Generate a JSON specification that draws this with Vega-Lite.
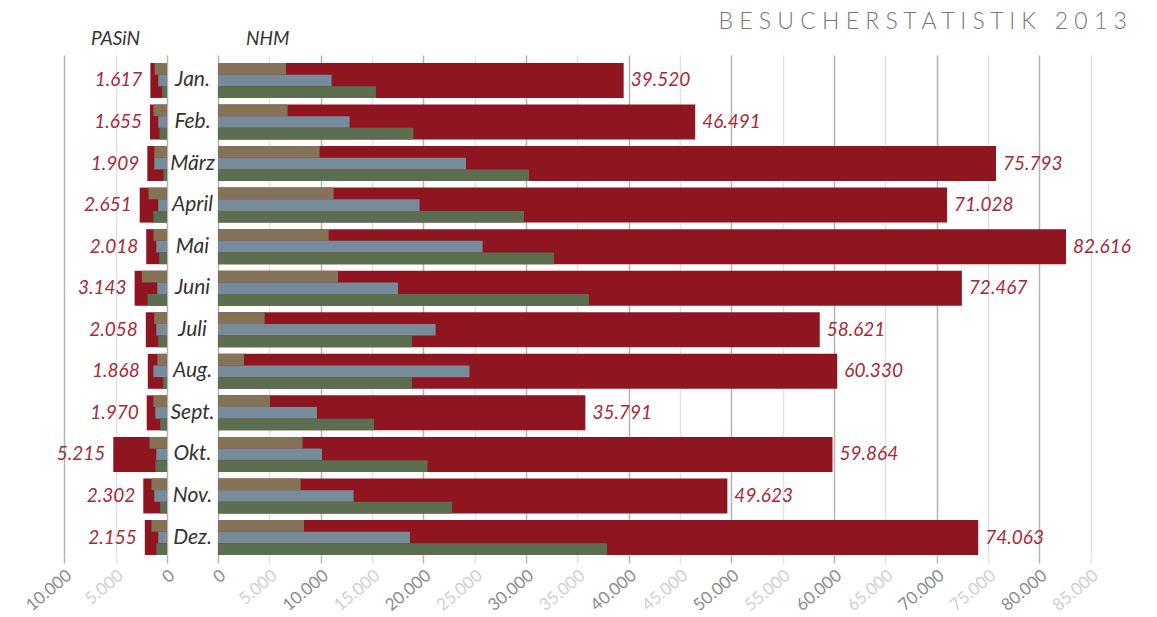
{
  "$schema": "https://vega.github.io/schema/vega-lite/v6.json",
  "background": "white",
  "padding": {"left": 22, "right": 20, "top": 11, "bottom": 5},
  "config": {
    "locale": {"number": {"decimal": ",", "thousands": ".", "grouping": [3], "currency": ["", " €"]}},
    "view": {"stroke": null},
    "font": "Lato",
    "axis": {"labelFont": "Lato", "titleFont": "Lato"}
  },
  "title": {
    "text": "B E S U C H E R S T A T I S T I K \u00a0 2 0 1 3",
    "anchor": "end",
    "font": "Lato",
    "fontSize": 23,
    "fontWeight": 300,
    "color": "#777777",
    "offset": -4,
    "dx": -4
  },
  "bounds": "flush",
  "spacing": 51,
  "datasets": {
    "totals": [
      {"panel": "PASiN", "month": "Jan.", "total": 1617},
      {"panel": "PASiN", "month": "Feb.", "total": 1655},
      {"panel": "PASiN", "month": "März", "total": 1909},
      {"panel": "PASiN", "month": "April", "total": 2651},
      {"panel": "PASiN", "month": "Mai", "total": 2018},
      {"panel": "PASiN", "month": "Juni", "total": 3143},
      {"panel": "PASiN", "month": "Juli", "total": 2058},
      {"panel": "PASiN", "month": "Aug.", "total": 1868},
      {"panel": "PASiN", "month": "Sept.", "total": 1970},
      {"panel": "PASiN", "month": "Okt.", "total": 5215},
      {"panel": "PASiN", "month": "Nov.", "total": 2302},
      {"panel": "PASiN", "month": "Dez.", "total": 2155},
      {"panel": "NHM", "month": "Jan.", "total": 39520},
      {"panel": "NHM", "month": "Feb.", "total": 46491},
      {"panel": "NHM", "month": "März", "total": 75793},
      {"panel": "NHM", "month": "April", "total": 71028},
      {"panel": "NHM", "month": "Mai", "total": 82616},
      {"panel": "NHM", "month": "Juni", "total": 72467},
      {"panel": "NHM", "month": "Juli", "total": 58621},
      {"panel": "NHM", "month": "Aug.", "total": 60330},
      {"panel": "NHM", "month": "Sept.", "total": 35791},
      {"panel": "NHM", "month": "Okt.", "total": 59864},
      {"panel": "NHM", "month": "Nov.", "total": 49623},
      {"panel": "NHM", "month": "Dez.", "total": 74063}
    ],
    "parts": [
      {"panel": "PASiN", "month": "Jan.", "cat": "G1", "value": 1200},
      {"panel": "PASiN", "month": "Jan.", "cat": "G2", "value": 850},
      {"panel": "PASiN", "month": "Jan.", "cat": "G3", "value": 480},
      {"panel": "PASiN", "month": "Feb.", "cat": "G1", "value": 1320},
      {"panel": "PASiN", "month": "Feb.", "cat": "G2", "value": 850},
      {"panel": "PASiN", "month": "Feb.", "cat": "G3", "value": 730},
      {"panel": "PASiN", "month": "März", "cat": "G1", "value": 1230},
      {"panel": "PASiN", "month": "März", "cat": "G2", "value": 1230},
      {"panel": "PASiN", "month": "März", "cat": "G3", "value": 350},
      {"panel": "PASiN", "month": "April", "cat": "G1", "value": 1800},
      {"panel": "PASiN", "month": "April", "cat": "G2", "value": 850},
      {"panel": "PASiN", "month": "April", "cat": "G3", "value": 1320},
      {"panel": "PASiN", "month": "Mai", "cat": "G1", "value": 1320},
      {"panel": "PASiN", "month": "Mai", "cat": "G2", "value": 1040},
      {"panel": "PASiN", "month": "Mai", "cat": "G3", "value": 760},
      {"panel": "PASiN", "month": "Juni", "cat": "G1", "value": 2450},
      {"panel": "PASiN", "month": "Juni", "cat": "G2", "value": 940},
      {"panel": "PASiN", "month": "Juni", "cat": "G3", "value": 1890},
      {"panel": "PASiN", "month": "Juli", "cat": "G1", "value": 1230},
      {"panel": "PASiN", "month": "Juli", "cat": "G2", "value": 1040},
      {"panel": "PASiN", "month": "Juli", "cat": "G3", "value": 850},
      {"panel": "PASiN", "month": "Aug.", "cat": "G1", "value": 940},
      {"panel": "PASiN", "month": "Aug.", "cat": "G2", "value": 1320},
      {"panel": "PASiN", "month": "Aug.", "cat": "G3", "value": 380},
      {"panel": "PASiN", "month": "Sept.", "cat": "G1", "value": 1320},
      {"panel": "PASiN", "month": "Sept.", "cat": "G2", "value": 1130},
      {"panel": "PASiN", "month": "Sept.", "cat": "G3", "value": 660},
      {"panel": "PASiN", "month": "Okt.", "cat": "G1", "value": 1700},
      {"panel": "PASiN", "month": "Okt.", "cat": "G2", "value": 1040},
      {"panel": "PASiN", "month": "Okt.", "cat": "G3", "value": 1130},
      {"panel": "PASiN", "month": "Nov.", "cat": "G1", "value": 1510},
      {"panel": "PASiN", "month": "Nov.", "cat": "G2", "value": 1230},
      {"panel": "PASiN", "month": "Nov.", "cat": "G3", "value": 660},
      {"panel": "PASiN", "month": "Dez.", "cat": "G1", "value": 1510},
      {"panel": "PASiN", "month": "Dez.", "cat": "G2", "value": 850},
      {"panel": "PASiN", "month": "Dez.", "cat": "G3", "value": 1040},
      {"panel": "NHM", "month": "Jan.", "cat": "G1", "value": 6620},
      {"panel": "NHM", "month": "Jan.", "cat": "G2", "value": 11070},
      {"panel": "NHM", "month": "Jan.", "cat": "G3", "value": 15390},
      {"panel": "NHM", "month": "Feb.", "cat": "G1", "value": 6780},
      {"panel": "NHM", "month": "Feb.", "cat": "G2", "value": 12820},
      {"panel": "NHM", "month": "Feb.", "cat": "G3", "value": 19030},
      {"panel": "NHM", "month": "März", "cat": "G1", "value": 9900},
      {"panel": "NHM", "month": "März", "cat": "G2", "value": 24160},
      {"panel": "NHM", "month": "März", "cat": "G3", "value": 30300},
      {"panel": "NHM", "month": "April", "cat": "G1", "value": 11260},
      {"panel": "NHM", "month": "April", "cat": "G2", "value": 19640},
      {"panel": "NHM", "month": "April", "cat": "G3", "value": 29810},
      {"panel": "NHM", "month": "Mai", "cat": "G1", "value": 10780},
      {"panel": "NHM", "month": "Mai", "cat": "G2", "value": 25780},
      {"panel": "NHM", "month": "Mai", "cat": "G3", "value": 32730},
      {"panel": "NHM", "month": "Juni", "cat": "G1", "value": 11690},
      {"panel": "NHM", "month": "Juni", "cat": "G2", "value": 17540},
      {"panel": "NHM", "month": "Juni", "cat": "G3", "value": 36140},
      {"panel": "NHM", "month": "Juli", "cat": "G1", "value": 4540},
      {"panel": "NHM", "month": "Juli", "cat": "G2", "value": 21200},
      {"panel": "NHM", "month": "Juli", "cat": "G3", "value": 18900},
      {"panel": "NHM", "month": "Aug.", "cat": "G1", "value": 2530},
      {"panel": "NHM", "month": "Aug.", "cat": "G2", "value": 24500},
      {"panel": "NHM", "month": "Aug.", "cat": "G3", "value": 18900},
      {"panel": "NHM", "month": "Sept.", "cat": "G1", "value": 5070},
      {"panel": "NHM", "month": "Sept.", "cat": "G2", "value": 9640},
      {"panel": "NHM", "month": "Sept.", "cat": "G3", "value": 15200},
      {"panel": "NHM", "month": "Okt.", "cat": "G1", "value": 8240},
      {"panel": "NHM", "month": "Okt.", "cat": "G2", "value": 10130},
      {"panel": "NHM", "month": "Okt.", "cat": "G3", "value": 20400},
      {"panel": "NHM", "month": "Nov.", "cat": "G1", "value": 8050},
      {"panel": "NHM", "month": "Nov.", "cat": "G2", "value": 13210},
      {"panel": "NHM", "month": "Nov.", "cat": "G3", "value": 22800},
      {"panel": "NHM", "month": "Dez.", "cat": "G1", "value": 8380},
      {"panel": "NHM", "month": "Dez.", "cat": "G2", "value": 18700},
      {"panel": "NHM", "month": "Dez.", "cat": "G3", "value": 37900}
    ]
  },
  "hconcat": [
    {
      "width": 103,
      "height": 500,
      "title": {"text": "PASiN", "anchor": "middle", "frame": "group", "font": "Lato", "fontSize": 19, "fontStyle": "italic", "fontWeight": "normal", "color": "#333333", "offset": 6},
      "layer": [
        {
          "data": {"name": "totals"},
          "transform": [{"filter": "datum.panel === 'PASiN'"}],
          "mark": {"type": "bar", "color": "#8f1520"},
          "encoding": {
            "y": {"field": "month", "type": "nominal", "scale": {"domain": ["Jan.", "Feb.", "März", "April", "Mai", "Juni", "Juli", "Aug.", "Sept.", "Okt.", "Nov.", "Dez."], "paddingInner": 0.158, "paddingOuter": 0.096, "align": 1}, "axis": null},
            "x": {"field": "total", "type": "quantitative", "scale": {"domain": [0, 10000], "reverse": true, "nice": false},
              "axis": {"values": [0, 5000, 10000], "title": null, "format": ",d", "domain": false, "grid": true,
                "gridColor": {"condition": {"test": "datum.value % 10000 === 0", "value": "#b4b4b4"}, "value": "#e2e2e2"},
                "gridWidth": 1.5,
                "tickColor": {"condition": {"test": "datum.value % 10000 === 0", "value": "#b4b4b4"}, "value": "#e2e2e2"},
                "tickWidth": 1.5, "tickSize": 8,
                "labelColor": {"condition": {"test": "datum.value % 10000 === 0", "value": "#8c8c8c"}, "value": "#cfcfcf"},
                "labelAngle": -40, "labelFontSize": 17, "labelPadding": 4}}
          }
        },
        {
          "data": {"name": "parts"},
          "transform": [{"filter": "datum.panel === 'PASiN'"}],
          "mark": {"type": "bar"},
          "encoding": {
            "y": {"field": "month", "type": "nominal"},
            "yOffset": {"field": "cat", "type": "nominal", "scale": {"domain": ["G1", "G2", "G3"], "paddingInner": 0, "paddingOuter": 0}},
            "x": {"field": "value", "type": "quantitative"},
            "color": {"field": "cat", "type": "nominal", "scale": {"domain": ["G1", "G2", "G3"], "range": ["#857358", "#778c9a", "#5c6e50"]}, "legend": null}
          }
        },
        {
          "data": {"name": "totals"},
          "transform": [{"filter": "datum.panel === 'PASiN'"}],
          "mark": {"type": "text", "align": "right", "baseline": "middle", "dx": -8, "font": "Lato", "fontSize": 19, "fontStyle": "italic", "color": "#a82a36"},
          "encoding": {
            "y": {"field": "month", "type": "nominal"},
            "x": {"field": "total", "type": "quantitative"},
            "text": {"field": "total", "type": "quantitative", "format": ",d"}
          }
        }
      ]
    },
    {
      "width": 872.5,
      "height": 500,
      "title": {"text": "NHM", "anchor": "start", "frame": "group", "dx": 28, "font": "Lato", "fontSize": 19, "fontStyle": "italic", "fontWeight": "normal", "color": "#333333", "offset": 6},
      "layer": [
        {
          "data": {"name": "totals"},
          "transform": [{"filter": "datum.panel === 'NHM'"}],
          "mark": {"type": "bar", "color": "#8f1520"},
          "encoding": {
            "y": {"field": "month", "type": "nominal", "scale": {"domain": ["Jan.", "Feb.", "März", "April", "Mai", "Juni", "Juli", "Aug.", "Sept.", "Okt.", "Nov.", "Dez."], "paddingInner": 0.158, "paddingOuter": 0.096, "align": 1},
              "axis": {"title": null, "domain": false, "ticks": false, "tickSize": 0, "grid": false, "labelAlign": "center", "labelPadding": 26, "labelFontSize": 21, "labelFontStyle": "italic", "labelColor": "#333333", "labelFont": "Lato"}},
            "x": {"field": "total", "type": "quantitative", "scale": {"domain": [0, 85000], "nice": false},
              "axis": {"values": [0, 5000, 10000, 15000, 20000, 25000, 30000, 35000, 40000, 45000, 50000, 55000, 60000, 65000, 70000, 75000, 80000, 85000], "title": null, "format": ",d", "domain": false, "grid": true,
                "gridColor": {"condition": {"test": "datum.value % 10000 === 0", "value": "#b4b4b4"}, "value": "#e2e2e2"},
                "gridWidth": 1.5,
                "tickColor": {"condition": {"test": "datum.value % 10000 === 0", "value": "#b4b4b4"}, "value": "#e2e2e2"},
                "tickWidth": 1.5, "tickSize": 8,
                "labelColor": {"condition": {"test": "datum.value % 10000 === 0", "value": "#8c8c8c"}, "value": "#cfcfcf"},
                "labelAngle": -40, "labelFontSize": 17, "labelPadding": 4, "labelOverlap": false}}
          }
        },
        {
          "data": {"name": "parts"},
          "transform": [{"filter": "datum.panel === 'NHM'"}],
          "mark": {"type": "bar"},
          "encoding": {
            "y": {"field": "month", "type": "nominal"},
            "yOffset": {"field": "cat", "type": "nominal", "scale": {"domain": ["G1", "G2", "G3"], "paddingInner": 0, "paddingOuter": 0}},
            "x": {"field": "value", "type": "quantitative"},
            "color": {"field": "cat", "type": "nominal", "scale": {"domain": ["G1", "G2", "G3"], "range": ["#857358", "#778c9a", "#5c6e50"]}, "legend": null}
          }
        },
        {
          "data": {"name": "totals"},
          "transform": [{"filter": "datum.panel === 'NHM'"}],
          "mark": {"type": "text", "align": "left", "baseline": "middle", "dx": 7, "font": "Lato", "fontSize": 19, "fontStyle": "italic", "color": "#a82a36"},
          "encoding": {
            "y": {"field": "month", "type": "nominal"},
            "x": {"field": "total", "type": "quantitative"},
            "text": {"field": "total", "type": "quantitative", "format": ",d"}
          }
        }
      ]
    }
  ]
}
